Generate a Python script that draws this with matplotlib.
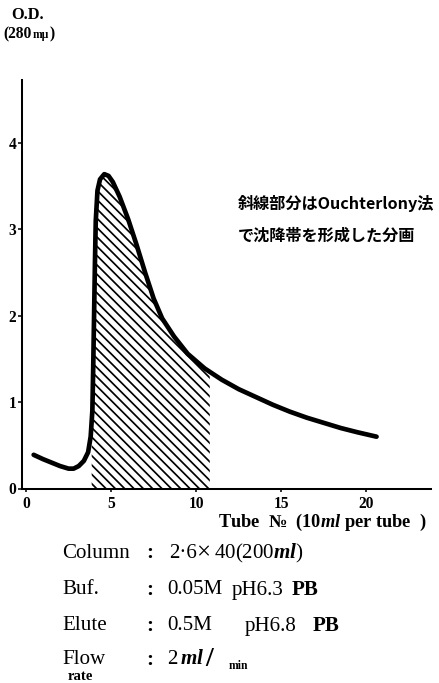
import numpy as np
import matplotlib
matplotlib.use("Agg")
import matplotlib.pyplot as plt

# elution profile, O.D. at 280 m-mu per tube
tube = [0.45, 1.0, 1.5, 2.0, 2.5, 2.8, 3.1, 3.4, 3.65, 3.8, 3.9, 3.95, 4.0,
        4.05, 4.1, 4.2, 4.35, 4.6, 4.85, 5.1, 5.5, 6.0, 6.5, 7.0, 7.5, 8.0,
        8.7, 9.5, 10.5, 11.5, 12.5, 13.5, 14.5, 15.5, 16.5, 17.5, 18.5,
        19.5, 20.6]
od = [0.39, 0.34, 0.30, 0.26, 0.23, 0.23, 0.26, 0.32, 0.42, 0.60, 0.90,
      1.40, 2.00, 2.60, 3.10, 3.45, 3.58, 3.64, 3.62, 3.55, 3.38, 3.12,
      2.82, 2.50, 2.20, 1.97, 1.76, 1.56, 1.39, 1.26, 1.15, 1.06, 0.97,
      0.89, 0.82, 0.76, 0.70, 0.65, 0.60]

# fractions giving a precipitin band (Ouchterlony)
band = (3.86, 10.8)

xticks = [0, 5, 10, 15, 20]
yticks = [0, 1, 2, 3, 4]

cond_names = ["Column", "Buf.", "Elute", "Flow"]
# each value is split in pieces: (text, bold)
cond_values = [
    [("2·6", False), ("×", False), ("40(200$\\mathit{ml}$)", False)],
    [("0.05M", False), ("pH6.3", False), ("PB", True)],
    [("0.5M", False), ("pH6.8", False), ("PB", True)],
    [("2", False), ("$\\mathit{ml}$", False), ("/", True)],
]

SERIF = "Liberation Serif"
plt.rcParams["mathtext.fontset"] = "custom"
plt.rcParams["mathtext.rm"] = SERIF
plt.rcParams["mathtext.it"] = SERIF + ":italic:bold"
plt.rcParams["mathtext.bf"] = SERIF + ":bold"
plt.rcParams["hatch.linewidth"] = 1.1

W, H, DPI = 439, 683, 112
fig = plt.figure(figsize=(W / DPI, H / DPI), dpi=DPI)


def fx(x):
    return x / W


def fy(y):
    return 1 - y / H


ax = fig.add_axes([fx(22), fy(488.5), (431 - 22) / W, (488.5 - 80) / H])
ax.set_xlim(-0.235, 23.8)
ax.set_ylim(0, 4.73)

x = np.array(tube)
y = np.array(od)
ax.plot(x, y, color="black", lw=3.0, solid_capstyle="round",
        solid_joinstyle="round", zorder=3)

# hatched area under the curve between the band limits
lo, hi = band
inner = (x > lo) & (x < hi)
hx = np.concatenate([[lo], x[inner], [hi]])
hy = np.concatenate([[np.interp(lo, x, y)], y[inner], [np.interp(hi, x, y)]])
ax.fill_between(hx, 0, hy, facecolor="none", edgecolor="black",
                hatch="\\\\\\\\", linewidth=0, zorder=2)

for side in ("top", "right"):
    ax.spines[side].set_visible(False)
for side in ("left", "bottom"):
    ax.spines[side].set_linewidth(1.3)

ax.set_xticks(xticks)
ax.set_yticks(yticks)
ax.tick_params(axis="y", length=2.4, width=1.0, pad=1.2)
ax.tick_params(axis="x", length=2, width=1.0, pad=3)
for lab in ax.get_xticklabels() + ax.get_yticklabels():
    lab.set_fontfamily(SERIF)
    lab.set_fontweight("bold")
    lab.set_fontsize(10)

# y axis caption
fig.text(fx(28), fy(15), "O.D.", family=SERIF, weight="bold", fontsize=10.5,
         ha="center", va="center")
fig.text(fx(3), fy(34), "(280", family=SERIF, weight="bold", fontsize=10,
         ha="left", va="center")
fig.text(fx(33), fy(35), "mμ", family=SERIF, weight="bold", fontsize=7.5,
         ha="left", va="center")
fig.text(fx(50), fy(34), ")", family=SERIF, weight="bold", fontsize=10,
         ha="left", va="center")

# x axis caption
fig.text(fx(218), fy(527), "Tube  №  (10$\\mathit{ml}$ per tube  )",
         family=SERIF, weight="bold", fontsize=11.8, ha="left",
         va="baseline")

# annotation about the hatched fractions
jp = ["Noto Sans CJK JP", "DejaVu Sans"]
fig.text(fx(238), fy(203), "斜線部分はOuchterlony法", family=jp,
         weight="bold", fontsize=10.4, ha="left", va="center")
fig.text(fx(238), fy(236), "で沈降帯を形成した分画", family=jp,
         weight="bold", fontsize=10.4, ha="left", va="center")

# running conditions
rows_y = [553, 590, 626, 660]
piece_x = [[169, 196, 214], [167, 232, 292], [167, 245, 313],
           [167, 180, 205]]
for name, pieces, xs, yy in zip(cond_names, cond_values, piece_x, rows_y):
    fig.text(fx(62), fy(yy), name, family=SERIF, fontsize=13.5,
             ha="left", va="center")
    fig.text(fx(146), fy(yy), ":", family=SERIF, weight="bold",
             fontsize=13.5, ha="left", va="center")
    for (txt, bold), px in zip(pieces, xs):
        size = {"/": 18, "×": 16}.get(txt, 13.5)
        fig.text(fx(px), fy(yy), txt, family=SERIF, fontsize=size,
                 weight="bold" if bold else "normal",
                 ha="left", va="center")
fig.text(fx(68), fy(677), "rate", family=SERIF, weight="bold", fontsize=9.5,
         ha="left", va="center")
fig.text(fx(229), fy(666), "min", family=SERIF, weight="bold", fontsize=7.5,
         ha="left", va="center")

fig.savefig("out.png", dpi=DPI)
